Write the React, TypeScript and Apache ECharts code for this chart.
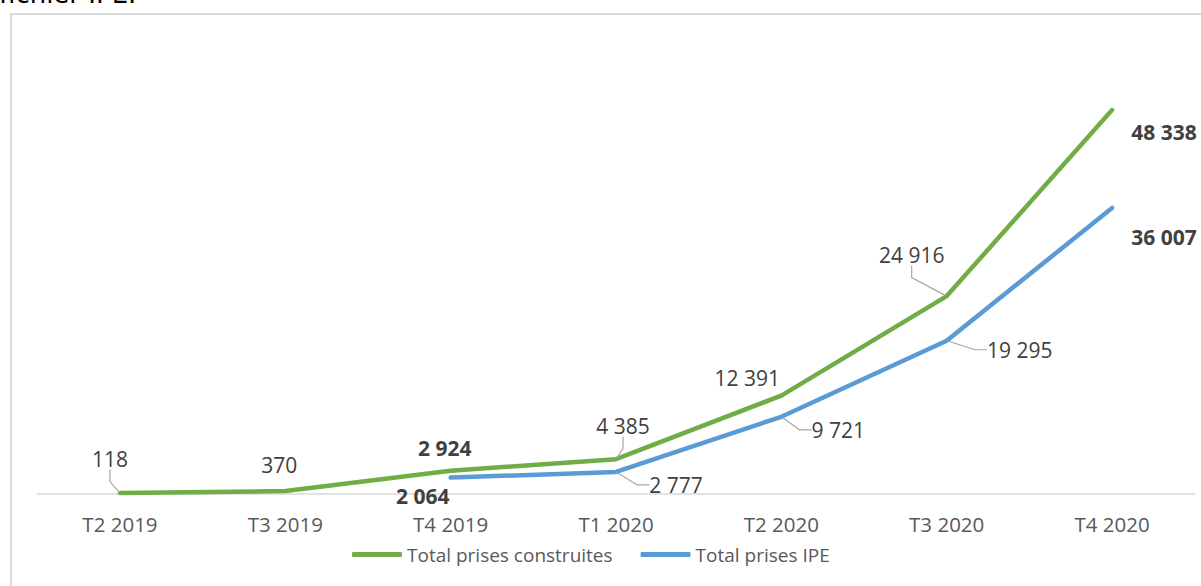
import React, { useEffect, useRef } from "react";
import * as echarts from "echarts";

const categories = ["T2 2019", "T3 2019", "T4 2019", "T1 2020", "T2 2020", "T3 2020", "T4 2020"];
const constructedValues = [118, 370, 2924, 4385, 12391, 24916, 48338];
const ipeValues: (number | null)[] = [null, null, 2064, 2777, 9721, 19295, 36007];
const seriesNames = ["Total prises construites", "Total prises IPE"];

// label placement (style): [dx, dy, bold, leader]
const greenLabelStyle: [number, number, boolean, boolean][] = [
  [-10, -34, false, true],
  [-6, -26, false, false],
  [-6, -23, true, false],
  [7, -33, false, true],
  [-34, -18, false, false],
  [-35, -41, false, true],
  [52, 22, true, false],
];
const blueLabelStyle: [number, number, boolean, boolean][] = [
  [0, 0, false, false],
  [0, 0, false, false],
  [-28, 18, true, false],
  [60, 13, false, true],
  [57, 13, false, true],
  [73, 9, false, true],
  [52, 29, true, false],
];

const fmt = (v: number) => String(v).replace(/\B(?=(\d{3})+(?!\d))/g, " ");
const FONT = "'Open Sans', sans-serif";

function buildData(values: (number | null)[], styles: [number, number, boolean, boolean][]) {
  return values.map((v, i) => {
    if (v === null) return "-";
    const [, , bold, leader] = styles[i];
    return {
      value: v,
      label: { fontWeight: bold ? "bold" : "normal" },
      labelLine: { show: leader },
    };
  });
}

export default function App() {
  const ref = useRef<HTMLDivElement>(null);
  useEffect(() => {
    if (!ref.current) return;
    const chart = echarts.init(ref.current, null, { renderer: "svg" });
    const labelCommon = {
      show: true,
      position: "inside",
      color: "#404040",
      fontSize: 21,
      fontFamily: FONT,
      formatter: (p: any) => fmt(p.value),
    };
    const labelLineCommon = {
      show: true,
      lineStyle: { color: "#a6a6a6", width: 1.2 },
      length2: 12,
    };
    chart.setOption({
      animation: false,
      backgroundColor: "#ffffff",
      graphic: [
        {
          type: "text",
          left: -1,
          top: -19,
          style: { text: "fichier IPE.", font: "26px 'DejaVu Sans', sans-serif", fill: "#000" },
        },
        {
          type: "rect",
          shape: { x: 11, y: 14, width: 1300, height: 700 },
          style: { fill: "none", stroke: "#d9d9d9", lineWidth: 2 },
          silent: true,
        },
      ],
      grid: { left: 37.3, right: 6.3, top: 17.4, bottom: 92, containLabel: false },
      legend: {
        left: 347,
        top: 540,
        itemWidth: 50,
        itemHeight: 5,
        itemGap: 28,
        textStyle: { color: "#595959", fontSize: 19, fontFamily: FONT },
        data: seriesNames.map((n) => ({ name: n, icon: "roundRect" })),
      },
      xAxis: {
        type: "category",
        data: categories,
        boundaryGap: true,
        axisLine: { lineStyle: { color: "#d9d9d9", width: 1.5 } },
        axisTick: { show: false },
        axisLabel: { color: "#595959", fontSize: 20.5, fontFamily: FONT, margin: 19 },
      },
      yAxis: { type: "value", min: 0, max: 60000, show: false, splitLine: { show: false } },
      series: [
        {
          name: seriesNames[0],
          type: "line",
          data: buildData(constructedValues, greenLabelStyle),
          color: "#70ad47",
          symbol: "circle",
          symbolSize: 2,
          showSymbol: true,
          lineStyle: { width: 4.5, color: "#70ad47", cap: "round", join: "round" },
          label: labelCommon,
          labelLine: labelLineCommon,
          labelLayout: (p: any) => ({ dx: greenLabelStyle[p.dataIndex][0], dy: greenLabelStyle[p.dataIndex][1] }),
          z: 3,
        },
        {
          name: seriesNames[1],
          type: "line",
          data: buildData(ipeValues, blueLabelStyle),
          color: "#5b9bd5",
          symbol: "circle",
          symbolSize: 2,
          showSymbol: true,
          lineStyle: { width: 4.5, color: "#5b9bd5", cap: "round", join: "round" },
          label: labelCommon,
          labelLine: labelLineCommon,
          labelLayout: (p: any) => ({ dx: blueLabelStyle[p.dataIndex][0], dy: blueLabelStyle[p.dataIndex][1] }),
          z: 2,
        },
      ],
    });
    return () => chart.dispose();
  }, []);
  return <div ref={ref} style={{ position: "absolute", left: 0, top: 0, width: 1201, height: 586 }} />;
}
